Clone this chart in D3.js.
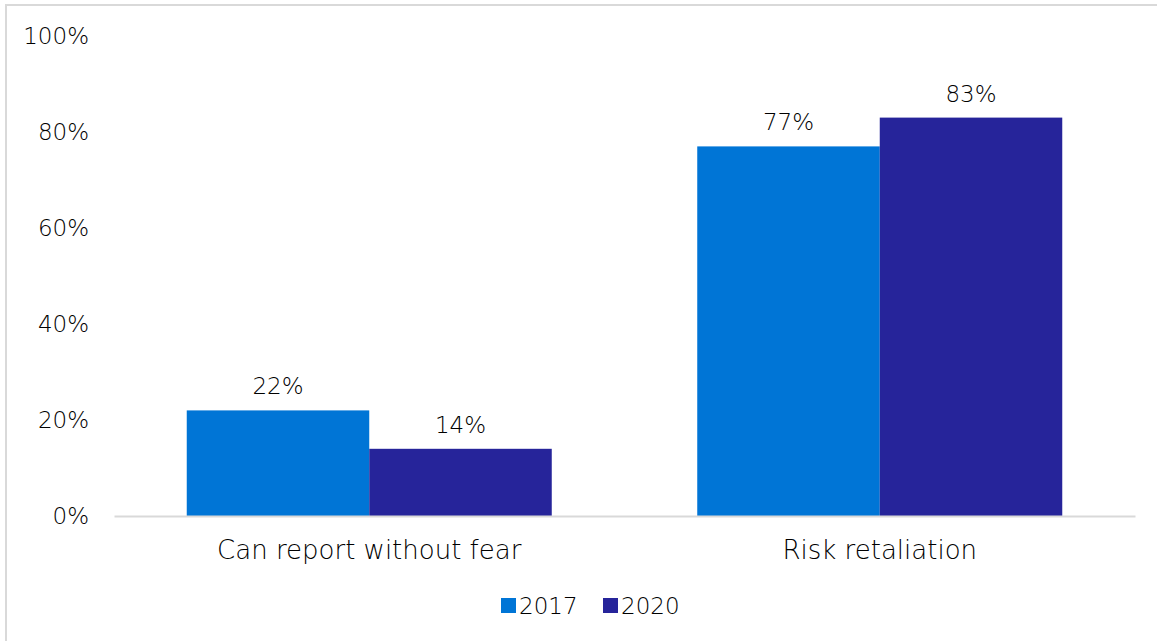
<!DOCTYPE html>
<html><head><meta charset="utf-8">
<script src="https://cdn.jsdelivr.net/npm/d3@7"></script>
<style>
html,body{margin:0;padding:0;background:#fff;}
svg{display:block;}
text{font-family:"DejaVu Sans",sans-serif;font-weight:200;fill:#000;}
</style></head><body>
<svg id="c" width="1157" height="641"></svg>
<script>
const categories = ["Can report without fear", "Risk retaliation"];
const seriesNames = ["2017", "2020"];
const values2017 = [22, 77];
const values2020 = [14, 83];
const yTicks = [0, 20, 40, 60, 80, 100];
const colors = ["#0075d6", "#26249a"];

const svg = d3.select("#c");
const W = 1157, H = 641;
const m = {left: 114, right: 22, top: 36, bottom: 125};
const FS = "23px";

svg.append("rect").attr("x", 6).attr("y", 5).attr("width", W + 10).attr("height", H + 10)
  .attr("fill", "#fff").attr("stroke", "#d9d9d9").attr("stroke-width", 2);

const x0 = d3.scaleBand().domain(categories).range([m.left, W - m.right]).paddingInner(0.285).paddingOuter(0.1425);
const x1 = d3.scaleBand().domain(seriesNames).range([0, x0.bandwidth()]);
const y = d3.scaleLinear().domain([0, 100]).range([H - m.bottom, m.top]);

const data = categories.map((c, i) => ({cat: c, vals: [values2017[i], values2020[i]]}));

// y axis labels
const ya = svg.append("g").attr("transform", `translate(${m.left - 25},0)`)
  .call(d3.axisLeft(y).tickValues(yTicks).tickFormat(d => d + "%").tickSize(0).tickPadding(0));
ya.select(".domain").remove();
ya.selectAll("text").style("font-size", FS).attr("font-family", null);

// bars
const g = svg.append("g");
data.forEach(d => {
  d.vals.forEach((v, j) => {
    const xx = x0(d.cat) + x1(seriesNames[j]);
    g.append("rect").attr("x", xx).attr("y", y(v)).attr("width", x1.bandwidth())
      .attr("height", y(0) - y(v)).attr("fill", colors[j]);
    g.append("text").attr("x", xx + x1.bandwidth() / 2).attr("y", y(v) - 16)
      .attr("text-anchor", "middle").style("font-size", FS).text(v + "%");
  });
});

// x axis
const xa = svg.append("g").attr("transform", `translate(0,${y(0)})`)
  .call(d3.axisBottom(x0).tickSize(0).tickPadding(25));
xa.select(".domain").attr("stroke", "#d9d9d9").attr("stroke-width", 2);
xa.selectAll("text").style("font-size", "26px").attr("font-family", null).attr("dy", "0.71em");

// legend
const leg = svg.append("g");
const legX = [501, 603];
seriesNames.forEach((s, j) => {
  leg.append("rect").attr("x", legX[j]).attr("y", 598).attr("width", 15).attr("height", 15).attr("fill", colors[j]);
  leg.append("text").attr("x", legX[j] + 18).attr("y", 606).attr("dy", "0.35em").style("font-size", FS).text(s);
});
</script>
</body></html>
